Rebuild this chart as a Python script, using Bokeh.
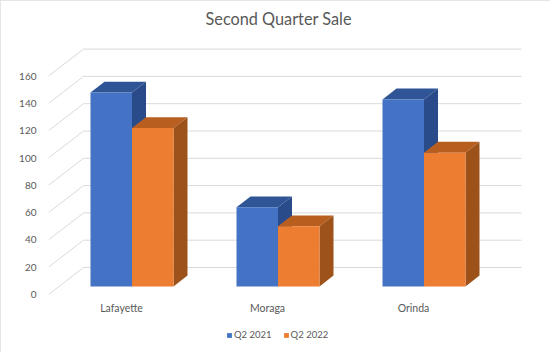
from bokeh.plotting import figure
from bokeh.models import Range1d, FixedTicker, Legend, LegendItem, Title
from bokeh.core.properties import value
from bokeh.embed import file_html
from bokeh.resources import INLINE

categories = ["Lafayette", "Moraga", "Orinda"]
q2_2021 = [142, 58, 137]
q2_2022 = [116, 44, 98]
y_ticks = [0, 20, 40, 60, 80, 100, 120, 140, 160]

FONT = "Lato"
TEXT = "#595959"
W, H = 550, 352
LEFT, TOP, ZERO_Y = 48, 32, 294
CAT_PX, UNIT_PX = 146.0, 1.365
DX, DY = 35 / CAT_PX, 27 / UNIT_PX      # full floor depth, in data units
NEAR, BAR = 0.3, 0.4                    # depth gap in front of the bars, bar depth

p = figure(width=W, height=H, output_backend="svg", toolbar_location=None,
           x_range=Range1d(0, (W - LEFT) / CAT_PX),
           y_range=Range1d((ZERO_Y - H) / UNIT_PX, (ZERO_Y - TOP) / UNIT_PX),
           min_border_left=LEFT, min_border_right=0,
           min_border_top=TOP, min_border_bottom=0,
           x_axis_location=None,
           margin=(0, 0, 0, 0), outline_line_color=None,
           styles={"outline": "1px solid #dcdcdc", "outline-offset": "-1px"},
           border_fill_color="white", background_fill_color="white")
p.grid.visible = False

p.title = Title(text="Second Quarter Sale", align="left", offset=157,
                text_font=FONT, text_font_size="16.3px", text_font_style="normal",
                text_color=TEXT)

p.yaxis.ticker = FixedTicker(ticks=y_ticks)
ax = p.yaxis[0]
ax.axis_line_color = None
ax.major_tick_line_color = None
ax.minor_tick_line_color = None
ax.major_label_text_font = FONT
ax.major_label_text_font_size = "10px"
ax.major_label_text_color = TEXT
ax.major_label_standoff = 6

p.text(x=[i + 0.5 for i in range(len(categories))], y=[-13.5 / UNIT_PX] * len(categories),
       text=categories, text_font=value(FONT), text_font_size="10.5px",
       text_color=TEXT, text_align="center", text_baseline="middle")

for v in y_ticks:
    p.line([0, DX, len(categories) + DX], [v, v + DY, v + DY],
           line_color="#d9d9d9", line_width=1)

def bars(values, start, face, top, side):
    r = None
    for i, v in enumerate(values):
        x0 = i + start
        x1 = x0 + 41.5 / CAT_PX
        fx, fy = DX * NEAR, DY * NEAR
        bx, by = DX * BAR, DY * BAR
        p.patch([x0 + fx, x1 + fx, x1 + fx + bx, x0 + fx + bx],
                [v + fy, v + fy, v + fy + by, v + fy + by], color=top, line_width=0)
        p.patch([x1 + fx, x1 + fx + bx, x1 + fx + bx, x1 + fx],
                [fy, fy + by, v + fy + by, v + fy], color=side, line_width=0)
        r = p.quad(left=[x0 + fx], right=[x1 + fx], bottom=[fy], top=[v + fy],
                   color=face, line_width=0)
    return r

r1 = bars(q2_2021, 31.5 / CAT_PX, "#4472c4", "#2f5597", "#2a4b8a")
r2 = bars(q2_2022, 73 / CAT_PX, "#ed7d31", "#b85f20", "#9c5219")

legend = Legend(items=[LegendItem(label="Q2 2021", renderers=[r1]),
                       LegendItem(label="Q2 2022", renderers=[r2])],
                orientation="horizontal", location=(178, 12),
                glyph_width=6, glyph_height=6, label_text_font=FONT,
                label_text_font_size="9.5px", label_text_color=TEXT,
                border_line_color=None, background_fill_alpha=0,
                spacing=11, label_standoff=2, padding=2, margin=0)
p.add_layout(legend, "center")

open("out.html", "w").write(file_html(p, INLINE))
